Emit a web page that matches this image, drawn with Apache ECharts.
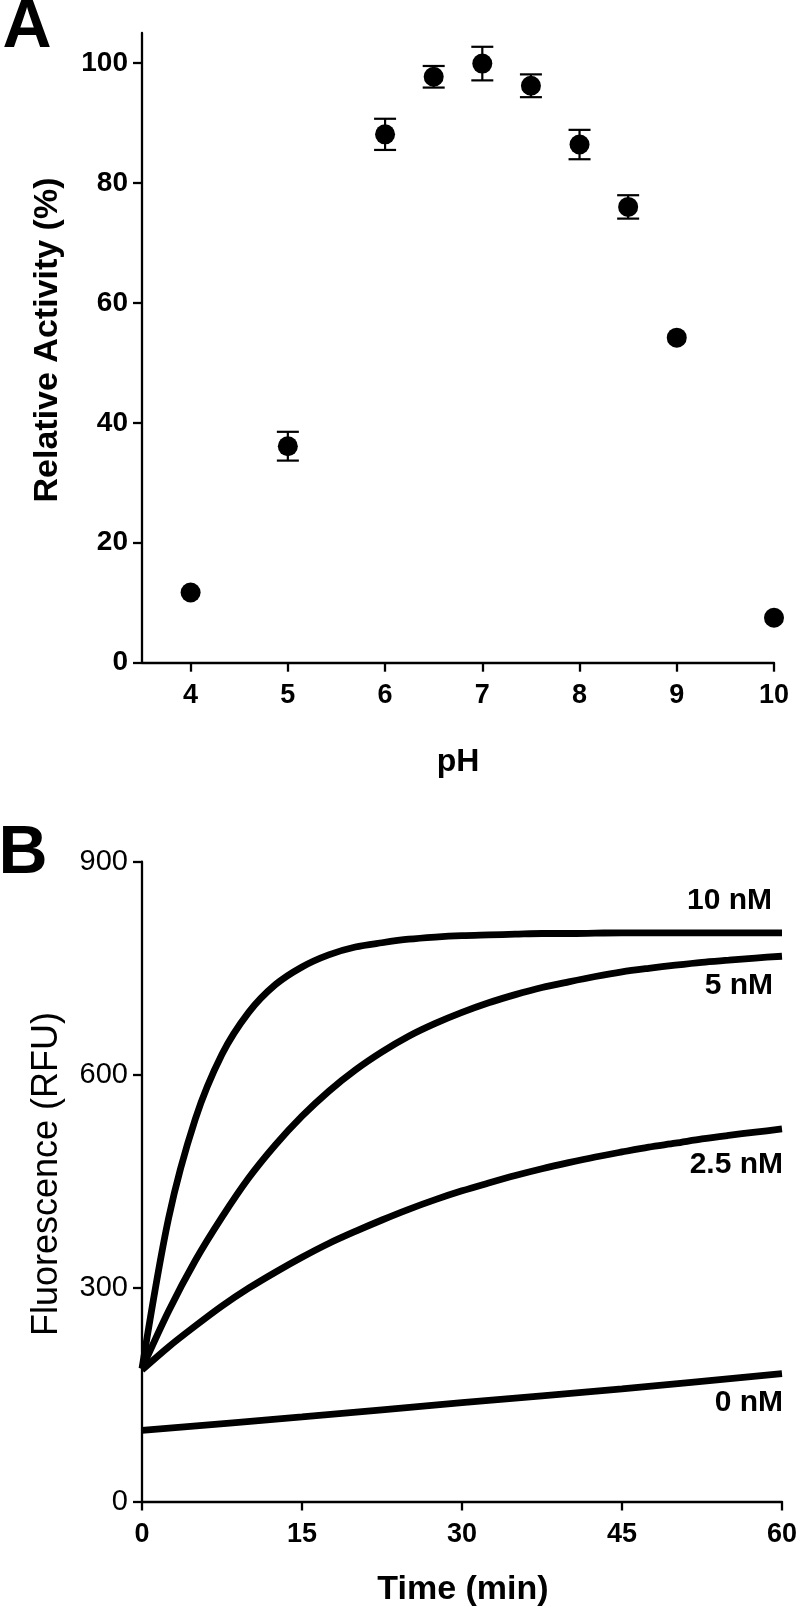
<!DOCTYPE html>
<html>
<head>
<meta charset="utf-8">
<script src="https://cdn.jsdelivr.net/npm/echarts@6/dist/echarts.min.js"></script>
<style>
html,body{margin:0;padding:0;background:#fff;}
#c{width:800px;height:1617px;}
</style>
</head>
<body>
<div id="c"></div>
<script>
// ---- Panel A data ----
const phValues = [4, 5, 6, 6.5, 7, 7.5, 8, 8.5, 9, 10];
const activity = [11.7, 36.1, 88.1, 97.7, 99.9, 96.2, 86.4, 76.0, 54.2, 7.5];
const activityErr = [0, 2.4, 2.6, 1.8, 2.8, 1.9, 2.45, 1.95, 0, 0];
const phTicks = [4, 5, 6, 7, 8, 9, 10];
const activityTicks = [0, 20, 40, 60, 80, 100];

// ---- Panel B data (read every 2.5 min) ----
const timeMin = [0, 2.5, 5, 7.5, 10, 12.5, 15, 17.5, 20, 22.5, 25, 27.5, 30,
                 32.5, 35, 37.5, 40, 42.5, 45, 47.5, 50, 52.5, 55, 57.5, 60];
const nM10 = [187, 399, 538, 629, 688, 727, 752, 769, 780, 786, 791, 794, 796,
              797, 798, 799, 799, 799.5, 800, 800, 800, 800, 800, 800, 800];
const nM5 = [187, 268, 339, 400, 455, 501.5, 542, 577, 607, 632.5, 654.5, 672.5, 688,
             701.5, 713, 723, 731, 738.5, 745, 750, 754.5, 758.5, 761.5, 764.5, 767];
const nM2_5 = [185, 217.6, 247, 275, 300, 322.5, 343.6, 363, 380, 396, 411, 424.6, 437,
               448, 458.5, 468, 476.6, 484.6, 491.7, 498.5, 504, 510, 515, 519.6, 524];
// 0 nM read every 15 min (nearly straight line)
const time0 = [0, 15, 30, 45, 60];
const nM0 = [100, 119, 139, 158.5, 180];
const curveLabels = ['10 nM', '5 nM', '2.5 nM', '0 nM'];

const FONT = '"Liberation Sans", Arial, Helvetica, sans-serif';

function pairs(xs, ys) { return xs.map((x, i) => [x, ys[i]]); }

const chart = echarts.init(document.getElementById('c'), null, {renderer: 'canvas'});

const axisLine = {show: true, lineStyle: {color: '#000', width: 2.3}};
const axisTick = {show: true, inside: false, length: 9, lineStyle: {color: '#000', width: 2.3}};

function curve(data) {
  return {type: 'line', xAxisIndex: 1, yAxisIndex: 1, data: data, smooth: 0.3,
          showSymbol: false, symbol: 'none', lineStyle: {color: '#000', width: 6.8}};
}

const option = {
  animation: false,
  backgroundColor: '#fff',
  grid: [
    {left: 142, right: 26, top: 33, bottom: 954.3, containLabel: false},
    {left: 142, right: 18, top: 861.7, bottom: 115.5, containLabel: false}
  ],
  xAxis: [
    {gridIndex: 0, type: 'value', min: 3.5, max: 10,
     axisLine: axisLine,
     axisTick: Object.assign({}, axisTick, {customValues: phTicks}),
     axisLabel: {customValues: phTicks, color: '#000', fontFamily: FONT, fontWeight: 'bold', fontSize: 27, margin: 33, verticalAlign: 'middle'},
     splitLine: {show: false}},
    {gridIndex: 1, type: 'value', min: 0, max: 60, interval: 15,
     axisLine: axisLine, axisTick: axisTick,
     axisLabel: {color: '#000', fontFamily: FONT, fontWeight: 'bold', fontSize: 27, margin: 33, verticalAlign: 'middle'},
     splitLine: {show: false}}
  ],
  yAxis: [
    {gridIndex: 0, type: 'value', min: 0, max: 105,
     axisLine: axisLine,
     axisTick: Object.assign({}, axisTick, {customValues: activityTicks}),
     axisLabel: {customValues: activityTicks, color: '#000', fontFamily: FONT, fontWeight: 'bold', fontSize: 28, margin: 14},
     splitLine: {show: false}},
    {gridIndex: 1, type: 'value', min: 0, max: 900, interval: 300,
     axisLine: axisLine, axisTick: axisTick,
     axisLabel: {color: '#000', fontFamily: FONT, fontWeight: 'normal', fontSize: 29, margin: 14},
     splitLine: {show: false}}
  ],
  series: [
    {
      type: 'custom', xAxisIndex: 0, yAxisIndex: 0, z: 2,
      data: phValues.map((p, i) => [p, activity[i], activityErr[i]]),
      renderItem: function (params, api) {
        const x = api.value(0), y = api.value(1), e = api.value(2);
        if (!e) return null;
        const top = api.coord([x, y + e]);
        const bot = api.coord([x, y - e]);
        const hw = 11;
        const st = {stroke: '#000', lineWidth: 2.2};
        return {type: 'group', children: [
          {type: 'line', shape: {x1: top[0], y1: top[1], x2: bot[0], y2: bot[1]}, style: st},
          {type: 'line', shape: {x1: top[0] - hw, y1: top[1], x2: top[0] + hw, y2: top[1]}, style: st},
          {type: 'line', shape: {x1: bot[0] - hw, y1: bot[1], x2: bot[0] + hw, y2: bot[1]}, style: st}
        ]};
      }
    },
    {
      type: 'scatter', xAxisIndex: 0, yAxisIndex: 0, z: 3,
      symbol: 'circle', symbolSize: 20,
      itemStyle: {color: '#000', opacity: 1},
      data: pairs(phValues, activity)
    },
    curve(pairs(timeMin, nM10)),
    curve(pairs(timeMin, nM5)),
    curve(pairs(timeMin, nM2_5)),
    curve(pairs(time0, nM0))
  ],
  graphic: [
    {type: 'text', x: 27, y: 28, style: {text: 'A', font: 'bold 68px ' + FONT, fill: '#000', textAlign: 'center', textVerticalAlign: 'middle'}},
    {type: 'text', x: 23, y: 854, style: {text: 'B', font: 'bold 68px ' + FONT, fill: '#000', textAlign: 'center', textVerticalAlign: 'middle'}},
    {type: 'text', x: 47.5, y: 340, rotation: Math.PI / 2, style: {text: 'Relative Activity (%)', font: 'bold 34px ' + FONT, fill: '#000', textAlign: 'center', textVerticalAlign: 'middle'}},
    {type: 'text', x: 458, y: 762, style: {text: 'pH', font: 'bold 32px ' + FONT, fill: '#000', textAlign: 'center', textVerticalAlign: 'middle'}},
    {type: 'text', x: 47.5, y: 1174, rotation: Math.PI / 2, style: {text: 'Fluorescence (RFU)', font: '36px ' + FONT, fill: '#000', textAlign: 'center', textVerticalAlign: 'middle'}},
    {type: 'text', x: 463, y: 1590, style: {text: 'Time (min)', font: 'bold 34px ' + FONT, fill: '#000', textAlign: 'center', textVerticalAlign: 'middle'}},
    {type: 'text', x: 772, y: 901, style: {text: curveLabels[0], font: 'bold 30px ' + FONT, fill: '#000', textAlign: 'right', textVerticalAlign: 'middle'}},
    {type: 'text', x: 773, y: 986, style: {text: curveLabels[1], font: 'bold 30px ' + FONT, fill: '#000', textAlign: 'right', textVerticalAlign: 'middle'}},
    {type: 'text', x: 783, y: 1165, style: {text: curveLabels[2], font: 'bold 30px ' + FONT, fill: '#000', textAlign: 'right', textVerticalAlign: 'middle'}},
    {type: 'text', x: 783, y: 1403, style: {text: curveLabels[3], font: 'bold 30px ' + FONT, fill: '#000', textAlign: 'right', textVerticalAlign: 'middle'}}
  ]
};
chart.setOption(option);
</script>
</body>
</html>
